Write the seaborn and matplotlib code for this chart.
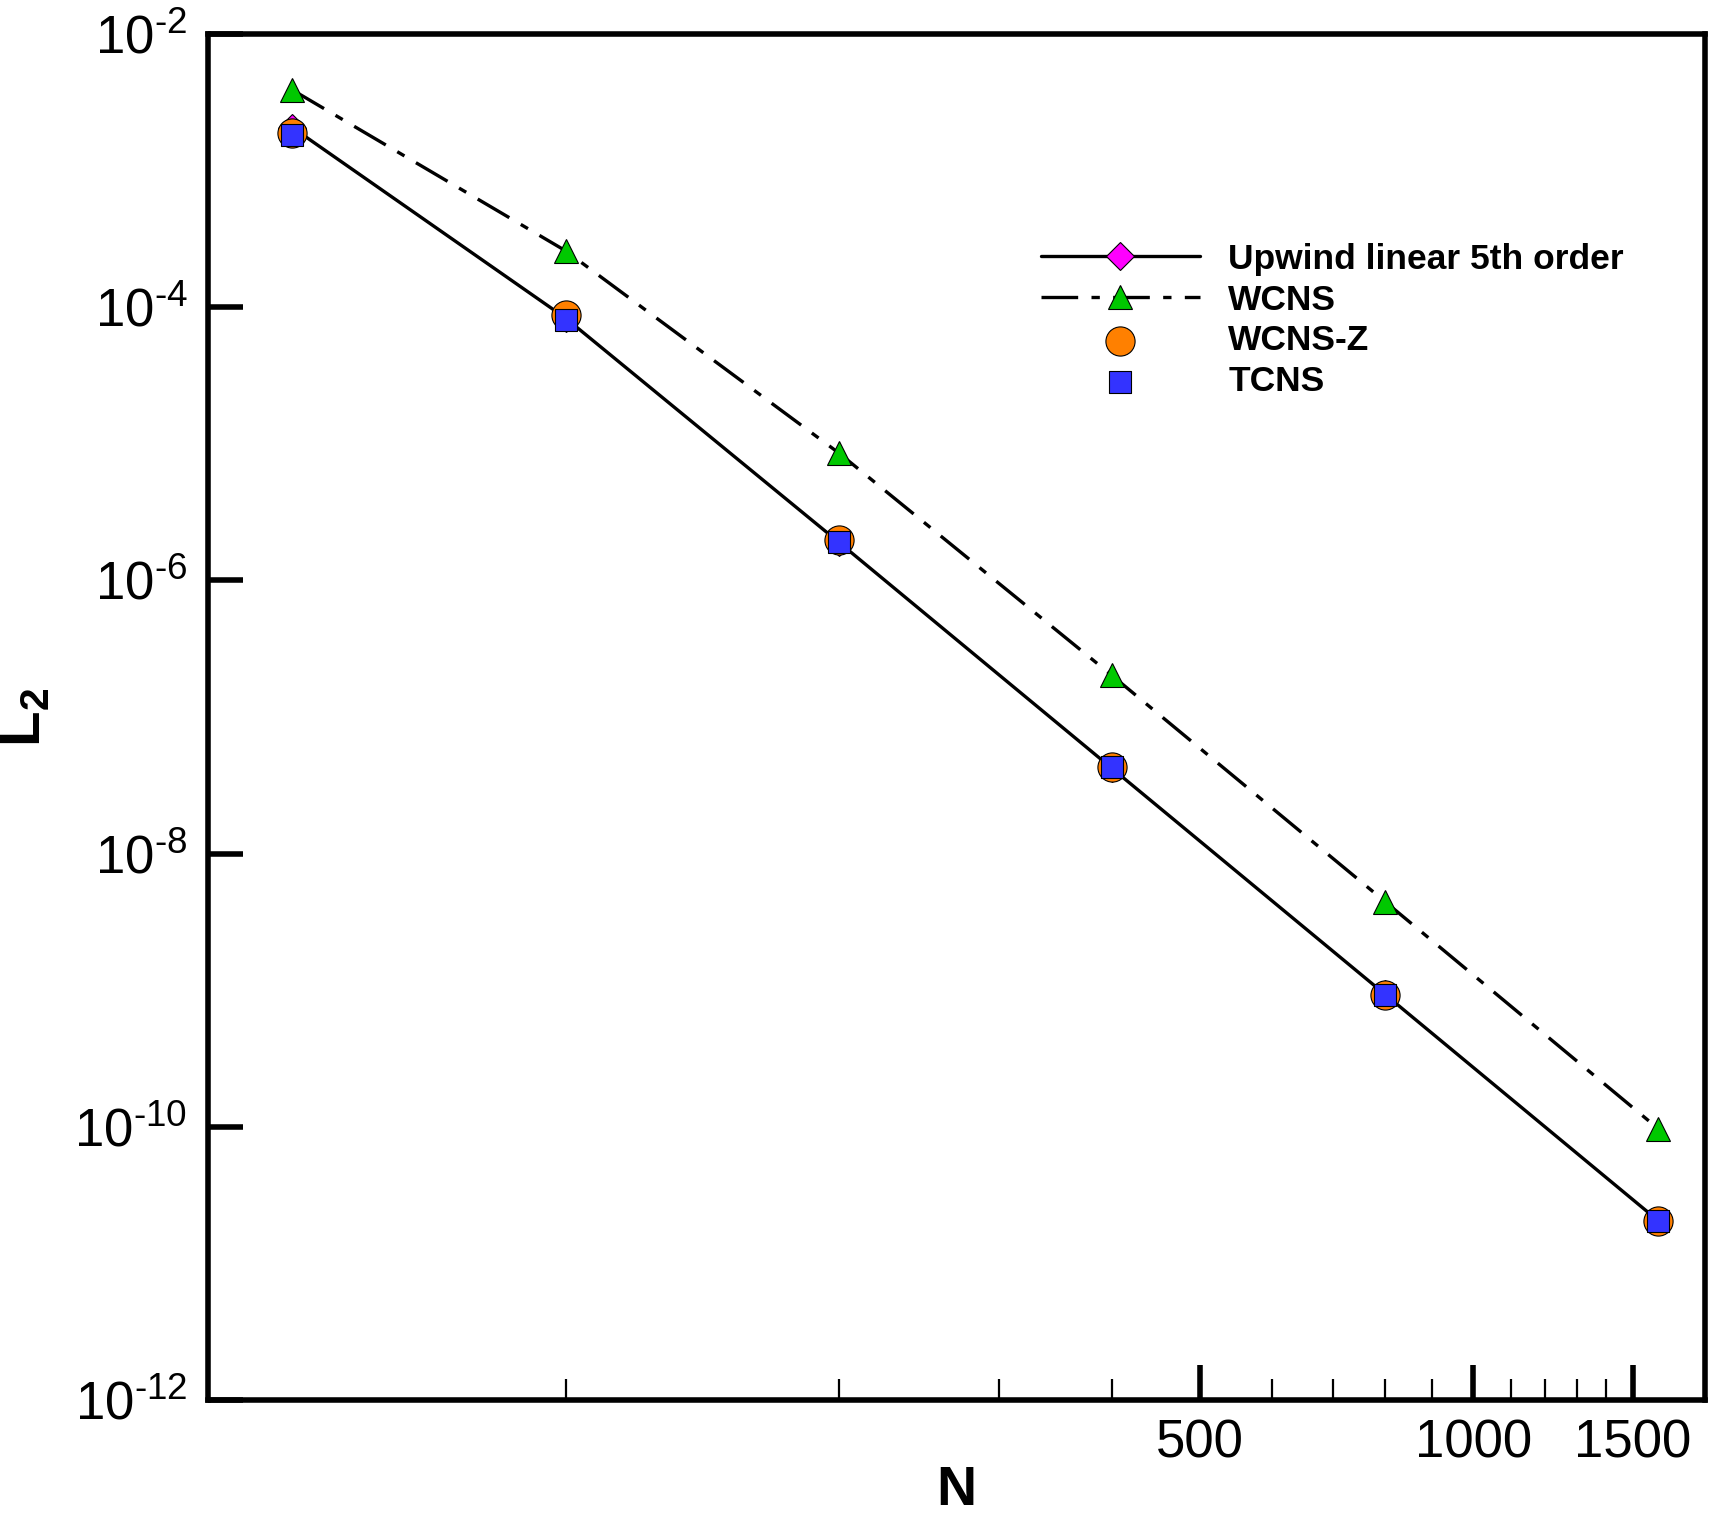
import math
import seaborn as sns
import matplotlib.pyplot as plt
from matplotlib.ticker import FixedLocator, FuncFormatter, NullLocator, NullFormatter

# grid sizes and L2 errors
N = [50, 100, 200, 400, 800, 1600]
upwind = [2.06e-3, 8.3e-5, 1.9e-6, 4.2e-8, 9.3e-10, 2.05e-11]
wcns = [3.88e-3, 2.58e-4, 8.55e-6, 2.01e-7, 4.44e-9, 9.66e-11]
wcns_z = [1.88e-3, 8.75e-5, 1.98e-6, 4.3e-8, 9.27e-10, 2.05e-11]
tcns = [1.82e-3, 8.07e-5, 1.9e-6, 4.3e-8, 9.27e-10, 2.05e-11]

x_major = [500, 1000, 1500]
x_minor = [100, 200, 300, 400, 600, 700, 800, 900, 1100, 1200, 1300, 1400]
y_major = [1e-12, 1e-10, 1e-8, 1e-6, 1e-4, 1e-2]

sns.set_style('white')
plt.rcParams['font.family'] = ['Liberation Sans', 'DejaVu Sans']
plt.rcParams['mathtext.fontset'] = 'custom'
plt.rcParams['mathtext.rm'] = 'Liberation Sans'
plt.rcParams['mathtext.bf'] = 'Liberation Sans:bold'
for k in ['text.color', 'axes.labelcolor', 'xtick.color', 'ytick.color']:
    plt.rcParams[k] = 'black'

fig = plt.figure(figsize=(17.11, 15.16), dpi=100)
ax = fig.add_axes([0.1218, 0.0765, 0.8747, 0.9012])

sns.lineplot(x=N, y=wcns, ax=ax, color='black', lw=2.4, linestyle=(0, (11, 4, 2.5, 4)),
             marker='^', markersize=17, markerfacecolor='#00C800',
             markeredgecolor='black', markeredgewidth=0.8, label='WCNS', zorder=2)
sns.lineplot(x=N, y=upwind, ax=ax, color='black', lw=2.4,
             marker='D', markersize=14.5, markerfacecolor='#FF00FF',
             markeredgecolor='black', markeredgewidth=0.8,
             label='Upwind linear 5th order', zorder=2.5)
sns.scatterplot(x=N, y=wcns_z, ax=ax, marker='o', s=21 ** 2, color='#FF8000',
                edgecolor='black', linewidth=0.8, label='WCNS-Z', zorder=3)
sns.scatterplot(x=N, y=tcns, ax=ax, marker='s', s=16 ** 2, color='#3333FF',
                edgecolor='black', linewidth=0.8, label='TCNS', zorder=4)

ax.set_xscale('log')
ax.set_yscale('log')
ax.set_xlim(40.4, 1801)
ax.set_ylim(1e-12, 1e-2)


def exp_label(v, pos):
    return r'$\mathregular{10^{\text{-%d}}}$' % round(-math.log10(v))


ax.xaxis.set_major_locator(FixedLocator(x_major))
ax.xaxis.set_major_formatter(FuncFormatter(lambda v, p: f'{v:.0f}'))
ax.xaxis.set_minor_locator(FixedLocator(x_minor))
ax.xaxis.set_minor_formatter(NullFormatter())
ax.yaxis.set_major_locator(FixedLocator(y_major))
ax.yaxis.set_major_formatter(FuncFormatter(exp_label))
ax.yaxis.set_minor_locator(NullLocator())

for s in ax.spines.values():
    s.set_linewidth(4)
    s.set_color('black')

ax.tick_params(axis='both', which='major', direction='in', length=25, width=4,
               labelsize=38, top=False, right=False, bottom=True, left=True, color='black')
ax.tick_params(axis='x', which='minor', direction='in', length=15, width=1.6,
               top=False, bottom=True, color='black')
ax.tick_params(axis='x', which='major', pad=13)
ax.tick_params(axis='y', which='major', pad=15)

ax.set_xlabel('N', fontsize=40, fontweight='bold', labelpad=-2)
ax.set_ylabel(r'$\mathbf{L_2}$', fontsize=42, labelpad=16)

handles, labels = ax.get_legend_handles_labels()
order = [labels.index(k) for k in ['Upwind linear 5th order', 'WCNS', 'WCNS-Z', 'TCNS']]
ax.legend([handles[i] for i in order], [labels[i] for i in order],
          loc='upper left', bbox_to_anchor=(0.556, 0.847), frameon=False,
          prop={'size': 25.5, 'weight': 'bold'}, numpoints=1, scatterpoints=1,
          handlelength=4.5, handletextpad=0.8, labelspacing=0.22,
          borderpad=0, borderaxespad=0)

fig.savefig('out.png', dpi=100)
